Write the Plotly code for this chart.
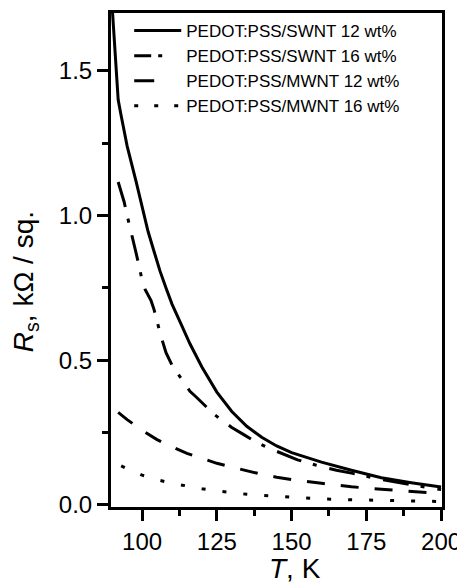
import plotly.graph_objects as go

# --- data ---
T_sw12 = [90, 91, 92, 93, 95, 98, 100, 102, 104, 106, 108, 110, 113, 116, 120, 125, 130, 135, 140, 145, 150, 160, 170, 180, 190, 200]
R_sw12 = [1.72, 1.57, 1.40, 1.345, 1.24, 1.117, 1.035, 0.945, 0.876, 0.808, 0.75, 0.694, 0.626, 0.557, 0.477, 0.39, 0.323, 0.272, 0.234, 0.204, 0.181, 0.148, 0.120, 0.094, 0.077, 0.062]

T_sw16 = [92, 94, 95, 96, 97, 98, 99, 100, 101, 103, 104, 105, 106, 107, 108, 110, 112, 114, 116, 118, 121, 124, 127, 130, 134, 138, 142, 148, 152, 158, 165, 170, 180, 190, 200]
R_sw16 = [1.116, 1.047, 1.0, 0.96, 0.912, 0.87, 0.826, 0.776, 0.745, 0.706, 0.675, 0.632, 0.595, 0.56, 0.526, 0.483, 0.452, 0.42, 0.393, 0.374, 0.344, 0.314, 0.29, 0.268, 0.243, 0.218, 0.198, 0.172, 0.156, 0.138, 0.12, 0.11, 0.088, 0.07, 0.053]

T_mw12 = [92, 95, 100, 105, 110, 115, 120, 125, 130, 135, 140, 145, 150, 160, 170, 180, 190, 200]
R_mw12 = [0.32, 0.295, 0.258, 0.226, 0.201, 0.178, 0.161, 0.144, 0.131, 0.118, 0.106, 0.096, 0.088, 0.075, 0.063, 0.054, 0.046, 0.040]

T_mw16 = [93, 95, 100, 105, 110, 115, 120, 125, 130, 135, 140, 145, 150, 160, 170, 180, 190, 200]
R_mw16 = [0.135, 0.125, 0.103, 0.087, 0.075, 0.065, 0.056, 0.049, 0.042, 0.037, 0.033, 0.030, 0.027, 0.021, 0.018, 0.016, 0.014, 0.012]

names = ["PEDOT:PSS/SWNT 12 wt%", "PEDOT:PSS/SWNT 16 wt%",
         "PEDOT:PSS/MWNT 12 wt%", "PEDOT:PSS/MWNT 16 wt%"]

x_ticks = [100, 125, 150, 175, 200]
y_ticks = [0.0, 0.5, 1.0, 1.5]
y_tick_text = ["0.0", "0.5", "1.0", "1.5"]

FONT = "Liberation Sans, Arial, sans-serif"

fig = go.Figure()
line_dashes = ["solid", "26px,12px,4px,13px", "18px,16px", "4px,17px"]
legend_dashes = ["solid", "17px,7px,4px,30px", "20px,40px", "4px,16px"]
series = [(T_sw12, R_sw12), (T_sw16, R_sw16), (T_mw12, R_mw12), (T_mw16, R_mw16)]
for (tx, ry), dash in zip(series, line_dashes):
    fig.add_trace(go.Scatter(x=tx, y=ry, mode="lines", showlegend=False,
                             line=dict(color="black", width=3, dash=dash)))
# legend entries (samples styled like the reference legend)
for nm, dash in zip(names, legend_dashes):
    fig.add_trace(go.Scatter(x=[None], y=[None], mode="lines", name=nm,
                             line=dict(color="black", width=3, dash=dash)))

axis_common = dict(showline=True, linecolor="black", linewidth=3, mirror=True,
                   ticks="outside", ticklen=11, tickwidth=2.5, tickcolor="black",
                   showgrid=False, zeroline=False,
                   tickfont=dict(family=FONT, size=24, color="black"))

fig.update_xaxes(range=[89.6, 200.3], tickvals=x_ticks,
                 minor=dict(ticks="outside", ticklen=6, tickwidth=2.5, tickcolor="black", dtick=12.5, tick0=87.5),
                 **axis_common)
fig.update_yaxes(range=[-0.007, 1.70], tickvals=y_ticks, ticktext=y_tick_text,
                 minor=dict(ticks="outside", ticklen=6, tickwidth=2.5, tickcolor="black", dtick=0.25, tick0=0),
                 **axis_common)

fig.add_annotation(text="<i>R</i><sub>s</sub>, kΩ / sq.", textangle=-90,
                   xref="paper", yref="paper", x=-0.26, y=0.457,
                   xanchor="center", yanchor="middle", showarrow=False,
                   font=dict(family=FONT, size=28, color="black"))
fig.add_annotation(text="<i>T</i>, K",
                   xref="paper", yref="paper", x=0.556, y=-0.124,
                   xanchor="center", yanchor="middle", showarrow=False,
                   font=dict(family=FONT, size=28, color="black"))

# page body adds an 8px offset, so the figure is sized to fit the 465x587 window
fig.update_layout(width=457, height=579,
                  margin=dict(l=103, r=23, t=2, b=80),
                  paper_bgcolor="white", plot_bgcolor="white",
                  showlegend=True,
                  legend=dict(x=0.055, y=1.0, xanchor="left", yanchor="top",
                              bgcolor="rgba(0,0,0,0)", borderwidth=0,
                              font=dict(family=FONT, size=17, color="black"),
                              tracegroupgap=0, itemwidth=47))

fig.write_html("out.html")
